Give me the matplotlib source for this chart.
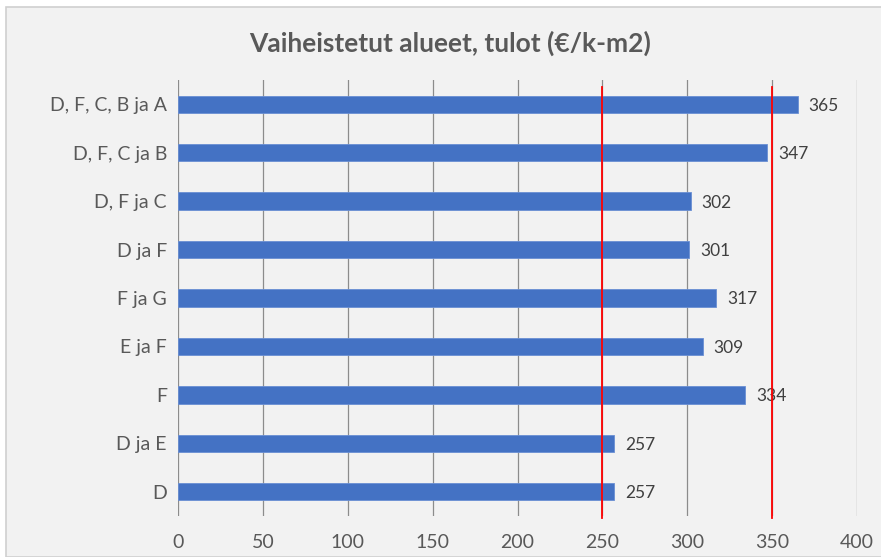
import matplotlib
matplotlib.use("Agg")
import matplotlib.pyplot as plt
from matplotlib.patches import Rectangle

categories = ["D, F, C, B ja A", "D, F, C ja B", "D, F ja C", "D ja F", "F ja G",
              "E ja F", "F", "D ja E", "D"]
values = [365, 347, 302, 301, 317, 309, 334, 257, 257]
x_ticks = [0, 50, 100, 150, 200, 250, 300, 350, 400]
ref_lines = [250, 350]
title = "Vaiheistetut alueet, tulot (€/k-m2)"

plt.rcParams['font.family'] = ['Lato', 'DejaVu Sans']
W, H = 881, 557
fig = plt.figure(figsize=(W/100, H/100), dpi=100)
fig.patch.set_facecolor('white')
fig.patches.append(Rectangle((6/W, 0), 1, 1 - 7/H, transform=fig.transFigure,
                             facecolor='#f2f2f2', edgecolor='#d0d0d0', lw=1.2, zorder=-1))

ax = fig.add_axes([178/W, 1 - 516/H, (857-178)/W, (516-80)/H])
ax.set_facecolor('none')
ypos = list(range(len(categories)))
ax.barh(ypos, values, height=0.36, color='#4472c4', edgecolor='#6a8fd4', lw=0.6, zorder=3)
for y, v in zip(ypos, values):
    ax.annotate(str(v), (v, y), xytext=(8, -1), textcoords='offset points',
                va='center', ha='left', fontsize=12.5, color='#404040')
for r in ref_lines:
    ax.plot([r, r], [-0.35, 8.55], color='#ff0000', lw=1.3, zorder=4, clip_on=False)
ax.set_xlim(0, 400)
ax.set_ylim(8.5, -0.5)
ax.set_yticks(ypos)
ax.set_yticklabels(categories, fontsize=14, color='#595959')
ax.set_xticks(x_ticks)
ax.set_xticklabels([str(t) for t in x_ticks], fontsize=14, color='#595959')
ax.tick_params(length=0, pad=8)
ax.tick_params(axis='x', pad=13)
ax.grid(axis='x', color='#8c8c8c', lw=0.9, zorder=0)
for s in ax.spines.values():
    s.set_visible(False)
fig.text((245+655)/2/W, 1 - 43/H, title, ha='center', va='center',
         fontsize=19, fontweight='bold', color='#595959')
fig.savefig('out.png', dpi=100, facecolor='white')
